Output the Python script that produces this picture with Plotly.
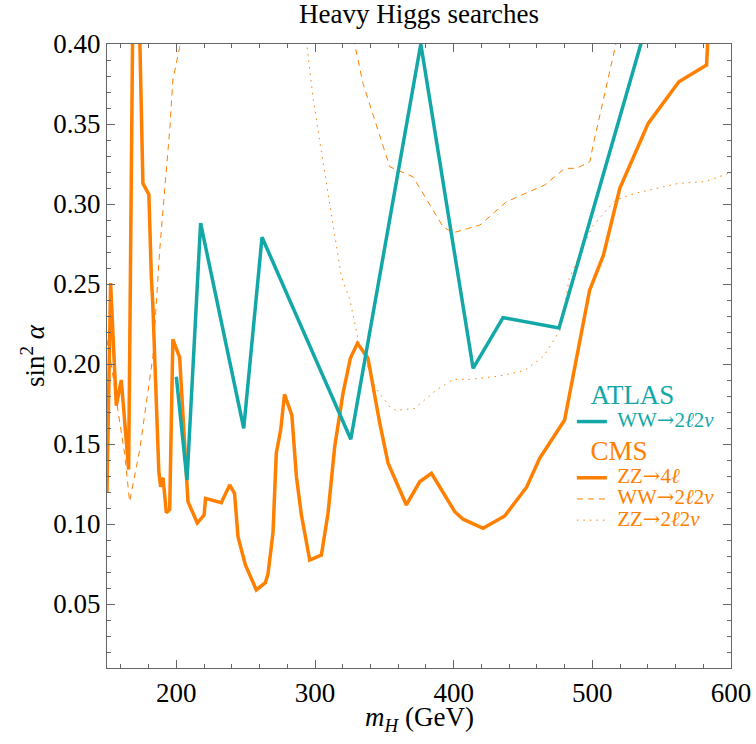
import plotly.graph_objects as go

TEAL = "#13A8A7"
ORANGE = "#FF7F00"
FONT = "Liberation Serif, Times New Roman, serif"

# ATLAS WW -> 2l2nu
atlas_ww_x = [200, 207.7, 217.5, 248.6, 261.8, 325.8, 376.3, 414, 435.6, 476, 535, 545]
atlas_ww_y = [0.192, 0.1275, 0.288, 0.1598, 0.2792, 0.153, 0.40, 0.1973, 0.229, 0.2225, 0.40, 0.43]

# CMS ZZ -> 4l
cms_zz4l_x = [150, 152.6, 156.7, 160.3, 165.6, 170, 175.9, 180.2, 182, 183, 187.4, 188.7,
              190.4, 192.8, 195.2, 197.5, 202.4, 208.4, 215.1, 220, 221.1, 232.4, 238.5,
              242, 244.5, 249.8, 257.7, 264.2, 266.1, 269.7, 272.1, 275.3, 278, 283.3,
              286.6, 290.2, 296.2, 304.6, 309.4, 314.2, 320.2, 325.5, 330.6, 338.2, 346.7,
              352.7, 365.9, 375.5, 384, 400.8, 406.8, 421.2, 436.8, 452.6, 462, 480, 498,
              508, 519.8, 540.3, 562.4, 582.4, 586]
cms_zz4l_y = [0.12, 0.2506, 0.174, 0.190, 0.134, 0.55, 0.313, 0.306, 0.254, 0.238, 0.1325, 0.1233,
              0.129, 0.107, 0.109, 0.2154, 0.204, 0.114, 0.1006, 0.1056, 0.116, 0.1133, 0.1244,
              0.119, 0.0919, 0.0744, 0.0588, 0.0633, 0.0688, 0.0944, 0.1444, 0.159, 0.181, 0.168,
              0.1296, 0.1056, 0.0775, 0.0806, 0.1067, 0.1483, 0.1817, 0.2036, 0.2129, 0.2036, 0.163,
              0.138, 0.1119, 0.1264, 0.1317, 0.1077, 0.103, 0.0973, 0.105, 0.123, 0.141, 0.165, 0.246,
              0.268, 0.3098, 0.3504, 0.3764, 0.3869, 0.45]

# CMS WW -> 2l2nu
cms_ww_x = [150, 153, 157.9, 162.7, 166.3, 173.5, 183.1, 188, 191.6, 195.2, 197.5, 202.4, 206,
            325, 328.6, 334.6, 353.9, 370.7, 392.3, 399.6, 419, 438.1, 465.7, 480.2, 488.6,
            498.2, 500.6, 517, 520]
cms_ww_y = [0.215, 0.20, 0.171, 0.144, 0.114, 0.146, 0.2046, 0.271, 0.309, 0.346, 0.3775, 0.398, 0.43,
            0.43, 0.40, 0.3754, 0.3233, 0.317, 0.2858, 0.282, 0.2869, 0.3014, 0.3119, 0.3223, 0.3223,
            0.3264, 0.337, 0.40, 0.42]

# CMS ZZ -> 2l2nu
cms_zz2l_x = [290, 293.8, 298.5, 302.9, 319, 325.2, 331.2, 343.1, 353.9, 358.7, 371.9, 387.6,
              399.6, 411.6, 433.3, 451.3, 465, 476.6, 483.4, 499.8, 516.6, 531, 550.3, 562.3,
              581.5, 600.8]
cms_zz2l_y = [0.43, 0.40, 0.367, 0.342, 0.2546, 0.24, 0.215, 0.1858, 0.1733, 0.171, 0.1723, 0.1838,
              0.1904, 0.1904, 0.1925, 0.196, 0.205, 0.221, 0.2536, 0.2858, 0.3025, 0.3067, 0.3108,
              0.3129, 0.314, 0.32]

ARROW = '<span style="font-family:DejaVu Serif">→</span>'
WW = f"WW{ARROW}2<i>ℓ</i>2<i>ν</i>"
ZZ4 = f"ZZ{ARROW}4<i>ℓ</i>"
ZZ2 = f"ZZ{ARROW}2<i>ℓ</i>2<i>ν</i>"

def lbl(txt, color):
    return f'<span style="color:{color};font-size:21px">&nbsp;{txt}</span>'

def gtitle(txt, color):
    return dict(text=f'<span style="font-size:27px">&nbsp;&nbsp;{txt}</span>',
                font=dict(color=color, size=20, family=FONT))

GT_CMS = gtitle("CMS", ORANGE)
GT_ATLAS = gtitle("ATLAS", TEAL)

fig = go.Figure()
fig.add_trace(go.Scatter(x=cms_zz2l_x, y=cms_zz2l_y, mode="lines",
                         line=dict(color=ORANGE, width=1, dash="1.5px,5px"),
                         name=lbl(ZZ2, ORANGE), legendgroup="CMS", legendrank=4,
                         legendgrouptitle=GT_CMS))
fig.add_trace(go.Scatter(x=cms_ww_x, y=cms_ww_y, mode="lines",
                         line=dict(color=ORANGE, width=1, dash="6px,5px"),
                         name=lbl(WW, ORANGE), legendgroup="CMS", legendrank=3,
                         legendgrouptitle=GT_CMS))
fig.add_trace(go.Scatter(x=cms_zz4l_x, y=cms_zz4l_y, mode="lines",
                         line=dict(color=ORANGE, width=3.5),
                         name=lbl(ZZ4, ORANGE), legendgroup="CMS", legendrank=2,
                         legendgrouptitle=GT_CMS))
fig.add_trace(go.Scatter(x=atlas_ww_x, y=atlas_ww_y, mode="lines",
                         line=dict(color=TEAL, width=3.5),
                         name=lbl(WW, TEAL), legendgroup="ATLAS", legendrank=1,
                         legendgrouptitle=GT_ATLAS))

axis_common = dict(
    showline=True, linecolor="#666", linewidth=1.2, mirror="allticks",
    ticks="inside", ticklen=8, tickwidth=1.2, tickcolor="#666",
    showgrid=False, zeroline=False, automargin=False,
    tickfont=dict(family=FONT, size=27, color="black"),
)

fig.update_xaxes(range=[150, 600], tick0=0, dtick=100,
                 minor=dict(dtick=20, ticks="inside", ticklen=4, tickcolor="#666", tickwidth=1.2, showgrid=False),
                 **axis_common)
fig.update_yaxes(range=[0.01, 0.40], tick0=0, dtick=0.05, tickformat=".2f",
                 minor=dict(dtick=0.01, ticks="inside", ticklen=4, tickcolor="#666", tickwidth=1.2, showgrid=False),
                 title=dict(text="sin<sup>2</sup> <i>α</i>", font=dict(family=FONT, size=27, color="black"), standoff=0),
                 **axis_common)

fig.add_annotation(text="<i>m<sub>H</sub></i> (GeV)", xref="paper", yref="paper",
                   x=0.5, y=-0.081, xanchor="center", yanchor="middle", showarrow=False,
                   font=dict(family=FONT, size=27, color="black"))

fig.update_layout(
    width=756, height=744,
    margin=dict(l=107, r=25, t=44, b=76),
    paper_bgcolor="white", plot_bgcolor="white",
    title=dict(text="Heavy Higgs searches", x=0.5, xref="paper", xanchor="center",
               y=1.0, yref="container", yanchor="top", pad=dict(t=4),
               font=dict(family=FONT, size=27, color="black"), automargin=False),
    legend=dict(x=0.745, y=0.4664, xanchor="left", yanchor="top",
                bgcolor="rgba(0,0,0,0)", font=dict(family=FONT, size=14),
                itemwidth=30, tracegroupgap=6, traceorder="grouped"),
    showlegend=True,
)

fig.write_html("out.html", config={"displayModeBar": False},
               post_script="document.body.style.margin='0px';")
